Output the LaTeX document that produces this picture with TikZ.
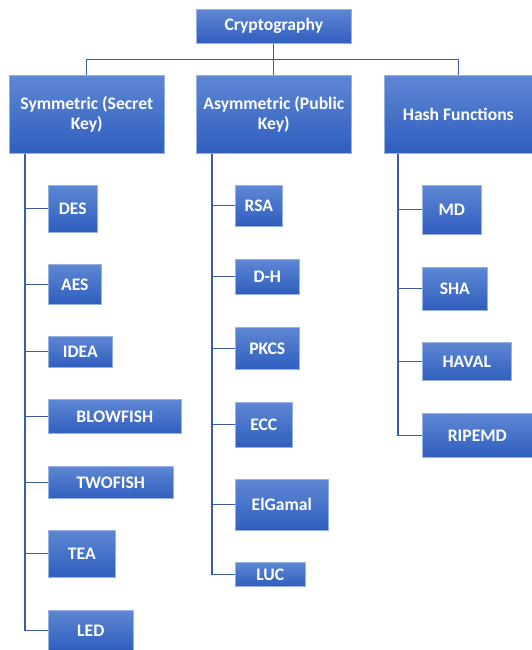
\documentclass[tikz,border=0pt]{standalone}
\usepackage{fontspec}
\setmainfont{Carlito}
\usepackage{tikz}

\definecolor{boxtop}{RGB}{94,135,212}
\definecolor{boxbot}{RGB}{47,94,190}
\definecolor{boxline}{RGB}{150,178,228}
\definecolor{wire}{RGB}{60,92,170}

\begin{document}
\begin{tikzpicture}[x=1pt,y=-1pt,
  box/.style={rectangle,anchor=north west,inner sep=0pt,top color=boxtop,bottom color=boxbot,
    draw=boxline,line width=0.6pt,text=white,font=\fontsize{17.6}{19.5}\selectfont\bfseries,align=center},
  wire/.style={draw=wire,line width=1.2pt}]
\useasboundingbox (0,0) rectangle (532,650);

\node [box,minimum width=155pt,minimum height=34pt] (crypto) at (196,9) {Cryptography};

\node [box,minimum width=155pt,minimum height=78pt] (sym) at (9,75) {Symmetric (Secret\\Key)};
\node [box,minimum width=155pt,minimum height=78pt] (asym) at (196,75) {Asymmetric (Public\\Key)};
\node [box,minimum width=148pt,minimum height=78pt] (hash) at (384,75) {Hash Functions};

% symmetric
\node [box,minimum width=49pt,minimum height=47pt] (des) at (48,185) {DES};
\node [box,minimum width=53pt,minimum height=40pt] (aes) at (48,264) {AES};
\node [box,minimum width=64pt,minimum height=31pt] (idea) at (48,336) {IDEA};
\node [box,minimum width=133pt,minimum height=34pt] (blowfish) at (48,399) {BLOWFISH};
\node [box,minimum width=125pt,minimum height=32pt] (twofish) at (48,466) {TWOFISH};
\node [box,minimum width=67pt,minimum height=47pt] (tea) at (48,530) {TEA};
\node [box,minimum width=85pt,minimum height=40pt] (led) at (48,610) {LED};

% asymmetric
\node [box,minimum width=47pt,minimum height=41pt] (rsa) at (235,185) {RSA};
\node [box,minimum width=64pt,minimum height=35pt] (dh) at (235,259) {D-H};
\node [box,minimum width=64pt,minimum height=42pt] (pkcs) at (235,327) {PKCS};
\node [box,minimum width=57pt,minimum height=45pt] (ecc) at (235,402) {ECC};
\node [box,minimum width=93pt,minimum height=51pt] (elgamal) at (235,479) {ElGamal};
\node [box,minimum width=70pt,minimum height=24pt] (luc) at (235,562) {LUC};

% hash
\node [box,minimum width=59pt,minimum height=49pt] (md) at (422,185) {MD};
\node [box,minimum width=65pt,minimum height=43pt] (sha) at (422,267) {SHA};
\node [box,minimum width=89pt,minimum height=38pt] (haval) at (422,342) {HAVAL};
\node [box,minimum width=110pt,minimum height=44pt] (ripemd) at (422,413) {RIPEMD};

\draw [wire] (crypto.south) -- (asym.north);
\draw [wire] (sym.north) |- ([yshift=-16pt]crypto.south) -| (hash.north);

\foreach \n in {des,aes,idea,blowfish,twofish,tea,led}
  \draw [wire] ([xshift=16pt]sym.south west) |- (\n.west);
\foreach \n in {rsa,dh,pkcs,ecc,elgamal,luc}
  \draw [wire] ([xshift=16pt]asym.south west) |- (\n.west);
\foreach \n in {md,sha,haval,ripemd}
  \draw [wire] ([xshift=14pt]hash.south west) |- (\n.west);
\end{tikzpicture}
\end{document}
